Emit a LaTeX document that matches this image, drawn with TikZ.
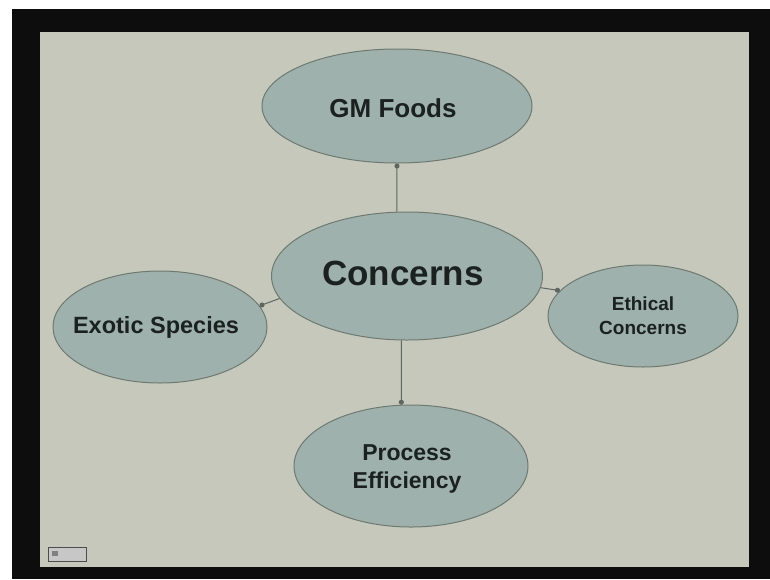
\documentclass[tikz,border=0pt]{standalone}
\usepackage{fontspec}
\setmainfont{Liberation Sans}
\usetikzlibrary{shapes.geometric,arrows.meta}
\definecolor{slidebg}{HTML}{C6C8BB}
\definecolor{bubble}{HTML}{9EB1AD}
\definecolor{bubbleedge}{HTML}{6E7971}
\definecolor{inktext}{HTML}{1B211F}
\definecolor{linkgray}{HTML}{5F655F}
\tikzset{
  bubblenode/.style={ellipse, draw=bubbleedge, line width=1pt, fill=bubble,
    inner sep=0pt},
  bubbletext/.style={align=center, text=inktext, inner sep=0pt},
  link/.style={draw=linkgray, line width=1pt, -{Circle[length=5pt]}},
}
\begin{document}
\begin{tikzpicture}[x=1pt, y=-1pt]
  \useasboundingbox (0,0) rectangle (770,579);
  % screen frame and slide
  \fill[black!95] (12,9) rectangle (770,579);
  \fill[slidebg] (40,32) rectangle (749,567);
  % small control button, lower left
  \draw[fill=black!22, draw=black!70, line width=0.8pt] (48,547) rectangle (86,561);
  \fill[black!50] (52,551) rectangle (58,556);

  % bubbles (text set as centred labels so the outline keeps its size)
  \node[bubblenode, minimum width=270pt, minimum height=114pt,
        label={[bubbletext, font=\bfseries\fontsize{26}{30}\selectfont, xshift=-4pt, yshift=-2pt]center:GM Foods}]
        (gm) at (397,106) {};
  \node[bubblenode, minimum width=271pt, minimum height=128pt,
        label={[bubbletext, font=\bfseries\fontsize{35}{40}\selectfont, xshift=-4pt, yshift=3pt]center:Concerns}]
        (concerns) at (407,276) {};
  \node[bubblenode, minimum width=214pt, minimum height=112pt,
        label={[bubbletext, font=\bfseries\fontsize{23.5}{28}\selectfont, xshift=-4pt]center:Exotic Species}]
        (exotic) at (160,327) {};
  \node[bubblenode, minimum width=190pt, minimum height=102pt,
        label={[bubbletext, font=\bfseries\fontsize{19}{24}\selectfont]center:Ethical\\Concerns}]
        (ethical) at (643,316) {};
  \node[bubblenode, minimum width=234pt, minimum height=122pt,
        label={[bubbletext, font=\bfseries\fontsize{23}{28}\selectfont, xshift=-4pt, yshift=-3pt]center:Process\\Efficiency}]
        (process) at (411,466) {};

  % connectors from the central bubble
  \draw[link] (concerns.99) -- (gm.south);
  \draw[link] (concerns.190) -- (exotic.12);
  \draw[link] (concerns.355) -- (ethical.163);
  \draw[link] (concerns.265) -- (process.99);
\end{tikzpicture}
\end{document}
